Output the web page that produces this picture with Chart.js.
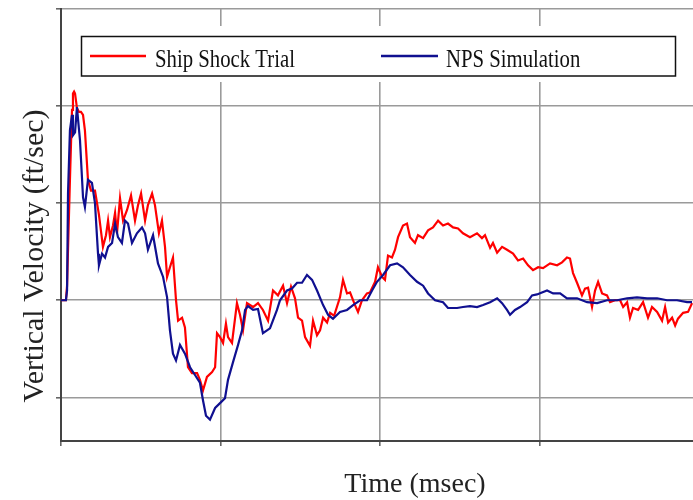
<!DOCTYPE html>
<html>
<head>
<meta charset="utf-8">
<title>Vertical Velocity</title>
<script src="https://cdn.jsdelivr.net/npm/chart.js@4.4.1/dist/chart.umd.min.js"></script>
<style>
  html, body { margin: 0; padding: 0; background: #fff; }
  canvas { display: block; }
</style>
</head>
<body>
<canvas id="chart" width="693" height="500"></canvas>
<script>
// Time (msec) and velocity (ft/sec)
const trialTime = [0, 0.31, 0.38, 0.44, 0.56, 0.69, 0.75, 0.82, 0.88, 1.00, 1.13, 1.25, 1.38, 1.50, 1.69, 1.88, 2.13, 2.38, 2.63, 2.82,
  2.95, 3.07, 3.26, 3.39, 3.51, 3.70, 3.89, 4.14, 4.39, 4.64, 4.83, 5.02, 5.27, 5.45, 5.71, 5.89, 6.14, 6.33, 6.52, 6.65,
  6.83, 7.02, 7.21, 7.34, 7.59, 7.77, 7.96, 8.21, 8.53, 8.71, 8.90, 9.15, 9.47, 9.66, 9.78, 9.97, 10.16, 10.34, 10.47, 10.72,
  11.03, 11.22, 11.41, 11.66, 12.04, 12.35, 12.66, 12.98, 13.29, 13.60, 13.92, 14.17, 14.42, 14.67, 14.86, 15.11, 15.30, 15.61, 15.80, 16.05,
  16.24, 16.43, 16.68, 16.87, 17.12, 17.49, 17.68, 17.93, 18.12, 18.43, 18.62, 18.87, 19.18, 19.37, 19.69, 19.87, 20.13, 20.31, 20.50, 20.75,
  20.94, 21.13, 21.44, 21.69, 21.88, 22.19, 22.38, 22.70, 23.01, 23.32, 23.64, 23.95, 24.26, 24.58, 24.89, 25.20, 25.64, 26.08, 26.39, 26.58,
  26.90, 27.08, 27.34, 27.65, 27.96, 28.34, 28.65, 28.97, 29.28, 29.59, 29.91, 30.22, 30.66, 31.10, 31.41, 31.72, 31.91, 32.10, 32.35, 32.66,
  32.85, 33.04, 33.29, 33.48, 33.67, 33.92, 34.23, 34.42, 34.73, 35.05, 35.24, 35.49, 35.67, 35.86, 36.18, 36.49, 36.80, 37.05, 37.37, 37.68,
  37.87, 38.06, 38.31, 38.50, 38.68, 39.00, 39.31, 39.56];
const trialVel = [0, 0, 0.15, 0.52, 1.24, 1.96, 2.13, 2.15, 2.13, 1.98, 1.94, 1.94, 1.91, 1.75, 1.24, 1.13, 1.13, 0.88, 0.55, 0.67,
  0.82, 0.65, 0.77, 0.90, 0.69, 1.05, 0.82, 0.93, 1.08, 0.82, 0.98, 1.10, 0.82, 0.98, 1.10, 0.98, 0.69, 0.82, 0.55, 0.24,
  0.34, 0.44, 0, -0.21, -0.18, -0.28, -0.69, -0.75, -0.75, -0.82, -0.93, -0.79, -0.74, -0.69, -0.34, -0.38, -0.44, -0.24, -0.38, -0.44,
  -0.03, -0.15, -0.31, -0.03, -0.07, -0.03, -0.10, -0.21, 0.10, 0.05, 0.15, -0.03, 0.14, 0.02, -0.18, -0.21, -0.38, -0.47, -0.21, -0.36,
  -0.31, -0.18, -0.23, -0.13, -0.16, 0.03, 0.21, 0.07, 0.08, -0.05, -0.12, 0, 0.07, 0.08, 0.19, 0.34, 0.24, 0.21, 0.46, 0.44,
  0.52, 0.65, 0.77, 0.79, 0.65, 0.59, 0.67, 0.64, 0.72, 0.75, 0.82, 0.77, 0.79, 0.75, 0.74, 0.69, 0.65, 0.69, 0.64, 0.67,
  0.54, 0.59, 0.49, 0.55, 0.52, 0.48, 0.41, 0.43, 0.36, 0.31, 0.34, 0.33, 0.38, 0.36, 0.39, 0.44, 0.43, 0.28, 0.18, 0.05,
  0.12, 0.13, -0.07, 0.10, 0.19, 0.07, 0.05, -0.02, 0, 0, -0.07, -0.02, -0.18, -0.08, -0.10, -0.02, -0.18, -0.07, -0.12, -0.21,
  -0.07, -0.23, -0.18, -0.26, -0.19, -0.13, -0.12, -0.03];

const simTime = [0, 0.31, 0.38, 0.44, 0.56, 0.69, 0.75, 0.88, 1.00, 1.07, 1.19, 1.38, 1.50, 1.69, 1.94, 2.13, 2.32, 2.38, 2.57, 2.76,
  2.95, 3.20, 3.39, 3.57, 3.82, 4.01, 4.20, 4.45, 4.76, 5.08, 5.27, 5.45, 5.77, 6.08, 6.40, 6.65, 6.83, 7.02, 7.21, 7.46,
  7.77, 8.09, 8.40, 8.71, 8.90, 9.09, 9.34, 9.66, 9.97, 10.28, 10.47, 10.78, 11.10, 11.35, 11.54, 11.72, 12.04, 12.35, 12.66, 13.10,
  13.54, 13.73, 14.17, 14.48, 14.80, 15.11, 15.42, 15.74, 16.05, 16.43, 16.74, 17.05, 17.49, 17.93, 18.31, 18.75, 19.18, 19.50, 19.81, 20.19,
  20.63, 21.07, 21.44, 21.88, 22.32, 22.70, 23.01, 23.45, 23.95, 24.26, 24.83, 25.20, 25.64, 26.08, 26.46, 26.90, 27.34, 27.65, 27.96, 28.15,
  28.46, 28.78, 29.22, 29.53, 29.84, 30.47, 30.85, 31.29, 31.72, 32.35, 32.98, 33.61, 34.23, 34.86, 35.49, 36.11, 36.74, 37.37, 37.99, 38.62,
  39.25, 39.56];
const simVel = [0, 0, 0.10, 1.10, 1.75, 1.91, 1.70, 1.73, 1.99, 1.86, 1.65, 1.06, 0.96, 1.24, 1.21, 1.00, 0.48, 0.36, 0.48, 0.44,
  0.55, 0.59, 0.79, 0.65, 0.59, 0.82, 0.79, 0.59, 0.69, 0.75, 0.69, 0.52, 0.67, 0.38, 0.24, 0.03, -0.31, -0.55, -0.62, -0.46,
  -0.55, -0.69, -0.77, -0.85, -1.03, -1.19, -1.23, -1.11, -1.06, -1.01, -0.82, -0.64, -0.46, -0.31, -0.10, -0.06, -0.10, -0.09, -0.34, -0.29,
  -0.10, 0, 0.10, 0.12, 0.18, 0.18, 0.26, 0.21, 0.10, -0.05, -0.15, -0.19, -0.12, -0.10, -0.05, 0, 0, 0.10, 0.19, 0.26,
  0.36, 0.38, 0.34, 0.26, 0.19, 0.15, 0.07, 0, -0.02, -0.08, -0.08, -0.07, -0.06, -0.07, -0.05, -0.02, 0.02, -0.03, -0.10, -0.15,
  -0.10, -0.07, -0.02, 0.05, 0.06, 0.10, 0.07, 0.07, 0.02, 0.02, -0.02, -0.03, 0, 0, 0.02, 0.03, 0.02, 0.02, 0, 0,
  -0.02, -0.02];

const xTicks = [0, 10, 20, 30];
const yTicks = [-1, 0, 1, 2, 3];
const seriesNames = ['Ship Shock Trial', 'NPS Simulation'];
const seriesColors = ['#ff0000', '#101090'];

function pairs(xs, ys) {
  return xs.map((x, i) => ({ x: x, y: ys[i] }));
}

const SERIF = '"Liberation Serif", "Times New Roman", serif';

// Legend box sitting inside the plot, white behind it
const boxLegend = {
  id: 'boxLegend',
  beforeDatasetsDraw(chart) {
    const ctx = chart.ctx;
    ctx.save();
    ctx.fillStyle = '#fff';
    ctx.fillRect(71, 26, 614, 56);
    ctx.strokeStyle = '#111';
    ctx.lineWidth = 1.5;
    ctx.strokeRect(81.5, 36.5, 594, 39.5);

    const items = [
      { sx: 90, ex: 146, tx: 155 },
      { sx: 381, ex: 438, tx: 446 }
    ];
    items.forEach((it, i) => {
      ctx.strokeStyle = seriesColors[i];
      ctx.lineWidth = 2.5;
      ctx.beginPath();
      ctx.moveTo(it.sx, 56);
      ctx.lineTo(it.ex, 56);
      ctx.stroke();

      ctx.save();
      ctx.translate(it.tx, 66.5);
      ctx.scale(0.83, 1);
      ctx.fillStyle = '#111';
      ctx.font = '25px ' + SERIF;
      ctx.textBaseline = 'alphabetic';
      ctx.fillText(seriesNames[i], 0, 0);
      ctx.restore();
    });
    ctx.restore();
  }
};

// Axis titles placed where the picture has them
const axisTitles = {
  id: 'axisTitles',
  afterDraw(chart) {
    const ctx = chart.ctx;
    ctx.save();
    ctx.fillStyle = '#222';
    ctx.font = '28px ' + SERIF;
    ctx.textAlign = 'center';
    ctx.textBaseline = 'alphabetic';
    ctx.fillText('Time (msec)', 415, 492);

    ctx.translate(43, 256);
    ctx.rotate(-Math.PI / 2);
    ctx.font = '30px ' + SERIF;
    ctx.fillText('Vertical Velocity (ft/sec)', 0, 0);
    ctx.restore();
  }
};

const gridStyle = {
  color: '#9a9a9a',
  lineWidth: 1.6,
  tickLength: 5,
  tickColor: '#666'
};

new Chart(document.getElementById('chart'), {
  type: 'line',
  data: {
    datasets: [{
      label: seriesNames[0],
      data: pairs(trialTime, trialVel),
      borderColor: seriesColors[0],
      borderWidth: 2.2,
      pointRadius: 0,
      tension: 0,
      order: 2
    }, {
      label: seriesNames[1],
      data: pairs(simTime, simVel),
      borderColor: seriesColors[1],
      borderWidth: 2.2,
      pointRadius: 0,
      tension: 0,
      order: 1
    }]
  },
  options: {
    responsive: false,
    devicePixelRatio: 1,
    animation: false,
    layout: { padding: { top: 9, right: 0, left: 0, bottom: 0 } },
    plugins: {
      legend: { display: false },
      tooltip: { enabled: false }
    },
    scales: {
      x: {
        type: 'linear',
        min: 0,
        max: 39.62,
        afterBuildTicks: s => { s.ticks = xTicks.map(v => ({ value: v })); },
        afterFit: s => { s.height = 59; },
        ticks: { display: false },
        grid: gridStyle,
        border: { display: true, color: '#444', width: 2 }
      },
      y: {
        type: 'linear',
        min: -1.45,
        max: 3,
        afterBuildTicks: s => { s.ticks = yTicks.map(v => ({ value: v })); },
        afterFit: s => { s.width = 61; },
        ticks: { display: false },
        grid: gridStyle,
        border: { display: true, color: '#444', width: 2 }
      }
    }
  },
  plugins: [boxLegend, axisTitles]
});
</script>
</body>
</html>
